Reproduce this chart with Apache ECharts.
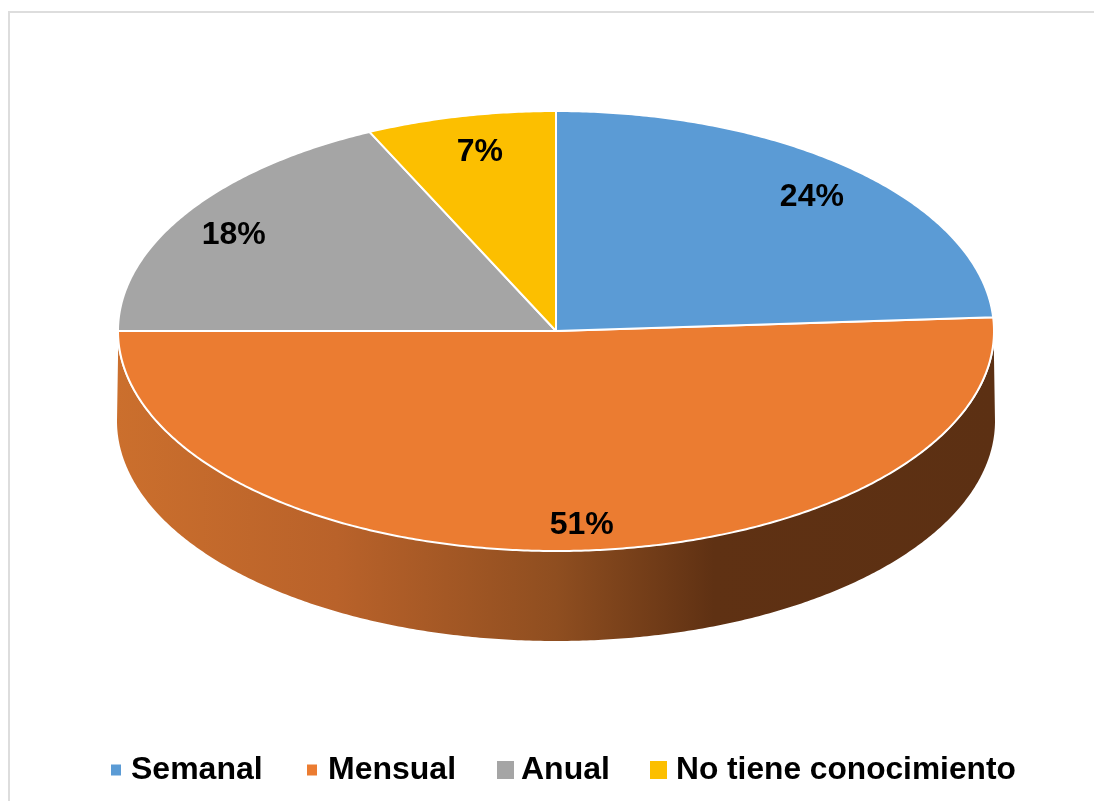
<!DOCTYPE html>
<html>
<head>
<meta charset="utf-8">
<style>html,body{margin:0;padding:0;background:#fff}#c{width:1094px;height:801px}</style>
<script src="https://cdn.jsdelivr.net/npm/echarts@6/dist/echarts.min.js"></script>
</head>
<body>
<div id="c"></div>
<script>
const categories = ['Semanal', 'Mensual', 'Anual', 'No tiene conocimiento'];
const values = [24, 51, 18, 7];
const colors = ['#5B9BD5', '#EB7C31', '#A5A5A5', '#FCBF00'];

const CX = 556, CY = 331, RX = 438, RY = 220, DEPTH = 90;
const total = values.reduce((a, b) => a + b, 0);
const labelOffsets = [[1, 2], [14, 7], [-8, 4], [5, 4]];
const legendLayout = [
  {left: 111, w: 10, h: 11, pad: 5, size: 32},
  {left: 307, w: 10, h: 11, pad: 6, size: 32},
  {left: 497, w: 17, h: 18, pad: 2, size: 32},
  {left: 650, w: 17, h: 18, pad: 4, size: 31.7}
];
const LEGEND_TOP = 754;
const pt = (deg, rx, ry, cy) => {
  const t = deg * Math.PI / 180;
  return [CX + rx * Math.sin(t), cy + -ry * Math.cos(t)];
};
const arc = (a0, a1, rx, ry, cy) => {
  const out = [];
  const n = Math.max(2, Math.ceil(Math.abs(a1 - a0) * 2));
  for (let i = 0; i <= n; i++) out.push(pt(a0 + (a1 - a0) * i / n, rx, ry, cy));
  return out;
};
const wallGradient = {
  type: 'linear', x: 0, y: 0, x2: 1, y2: 0,
  colorStops: [
    {offset: 0, color: '#CB6F2D'},
    {offset: 0.25, color: '#B9622A'},
    {offset: 0.5, color: '#8F4E20'},
    {offset: 0.68, color: '#5F3113'},
    {offset: 1, color: '#5C3013'}
  ]
};
function renderSlice(index) {
  return function () {
    const start = values.slice(0, index).reduce((a, b) => a + b, 0) / total * 360;
    const end = start + values[index] / total * 360;
    const mid = (start + end) / 2;
    const children = [];
    if (index === 1) {
      const top = arc(265.8, 94.2, RX + 1, RY, CY);
      const bottom = arc(90, 270, RX + 1, RY, CY + DEPTH);
      children.push({
        type: 'polygon',
        shape: {points: top.concat(bottom)},
        style: {fill: wallGradient, stroke: null}
      });
    }
    children.push({
      type: 'polygon',
      shape: {points: [[CX, CY]].concat(arc(start, end, RX, RY, CY))},
      style: {fill: colors[index], stroke: '#fff', lineWidth: 2, lineJoin: 'round'}
    });
    const p = pt(mid, RX * 0.85, RY * 0.85, CY);
    children.push({
      type: 'text',
      x: p[0] + labelOffsets[index][0],
      y: p[1] + labelOffsets[index][1],
      z2: 50,
      style: {
        text: values[index] + '%',
        fill: '#000',
        font: 'bold 32px "Liberation Sans", Arial, sans-serif',
        align: 'center',
        verticalAlign: 'middle'
      }
    });
    return {type: 'group', children: children};
  };
}
const chart = echarts.init(document.getElementById('c'), null, {renderer: 'canvas'});
chart.setOption({
  animation: false,
  backgroundColor: '#fff',
  graphic: [{
    type: 'polyline',
    shape: {points: [[9, 801], [9, 12], [1094, 12]]},
    style: {stroke: '#DDDDDD', lineWidth: 2, fill: null},
    silent: true
  }],
  legend: categories.map((name, i) => ({
    data: [name],
    left: legendLayout[i].left,
    top: LEGEND_TOP,
    padding: 0,
    icon: 'rect',
    itemWidth: legendLayout[i].w,
    itemHeight: legendLayout[i].h,
    selectedMode: false,
    textStyle: {
      color: '#000',
      fontFamily: '"Liberation Sans", Arial, sans-serif',
      fontWeight: 'bold',
      fontSize: legendLayout[i].size,
      padding: [0, 0, 0, legendLayout[i].pad]
    }
  })),
  series: categories.map((name, i) => ({
    type: 'custom',
    name: name,
    coordinateSystem: 'none',
    silent: true,
    clip: false,
    z: i === 1 ? 1 : 2,
    itemStyle: {color: colors[i]},
    data: [values[i]],
    renderItem: renderSlice(i)
  }))
});
</script>
</body>
</html>
